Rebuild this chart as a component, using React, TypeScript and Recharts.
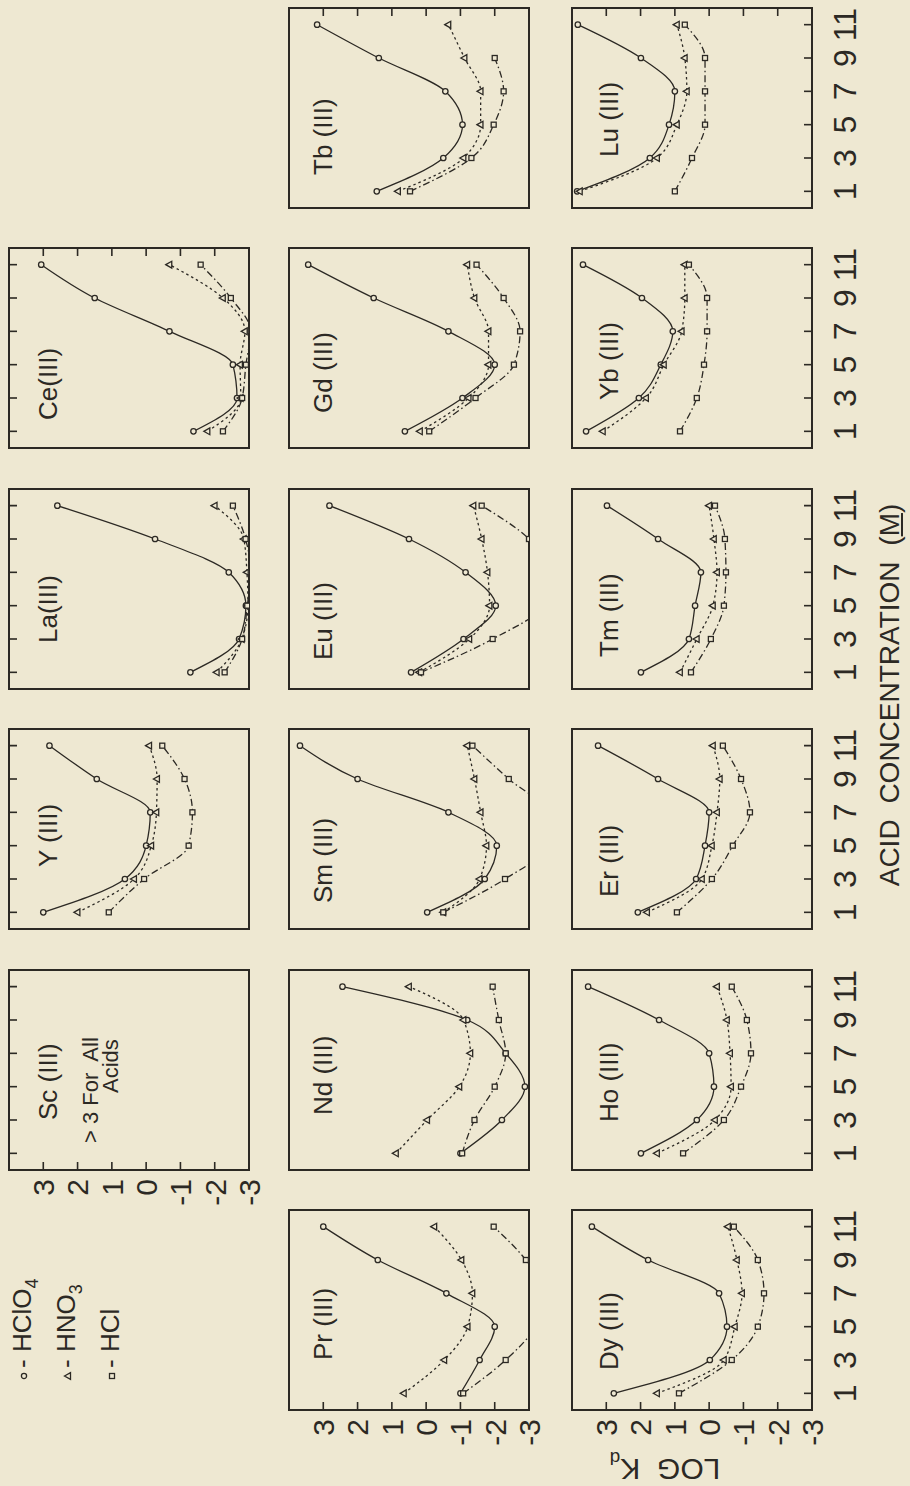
import React from 'react';
import { ComposedChart, Line, XAxis, YAxis, ReferenceArea } from 'recharts';

// acid concentration (M) of every measured point
const conc = [1, 3, 5, 7, 9, 11];
const concTicks = [1, 3, 5, 7, 9, 11];
const logTicks = [-3, -2, -1, 0, 1, 2, 3];

// LOG Kd at conc 1..11  (values below -3 run off the panel)
const scHClO4 = [null, null, null, null, null, null];
const scHNO3 = [null, null, null, null, null, null];
const scHCl = [null, null, null, null, null, null];

const yHClO4 = [3.0, 0.62, 0.0, -0.12, 1.44, 2.82];
const yHNO3 = [2.0, 0.35, -0.15, -0.3, -0.32, -0.09];
const yHCl = [1.09, 0.06, -1.24, -1.35, -1.12, -0.47];

const laHClO4 = [-1.29, -2.71, -2.91, -2.41, -0.26, 2.59];
const laHNO3 = [-2.06, -2.79, -2.97, -2.94, -2.85, -2.0];
const laHCl = [-2.29, -2.8, -2.95, -3.05, -2.9, -2.53];

const ceHClO4 = [-1.38, -2.65, -2.53, -0.68, 1.5, 3.06];
const ceHNO3 = [-1.79, -2.76, -2.74, -2.88, -2.24, -0.68];
const ceHCl = [-2.24, -2.8, -2.91, -3.05, -2.47, -1.59];

const prHClO4 = [-1.0, -1.56, -2.0, -0.59, 1.41, 3.0];
const prHNO3 = [0.65, -0.53, -1.21, -1.35, -1.03, -0.24];
const prHCl = [-1.08, -2.32, -3.2, -3.5, -2.91, -1.97];

const ndHClO4 = [-1.0, -2.21, -2.88, -2.32, -1.2, 2.44];
const ndHNO3 = [0.88, -0.03, -0.97, -1.29, -1.09, 0.5];
const ndHCl = [-1.05, -1.41, -2.0, -2.32, -2.12, -1.94];

const smHClO4 = [-0.03, -1.71, -2.06, -0.65, 2.0, 3.68];
const smHNO3 = [-0.5, -1.56, -1.76, -1.59, -1.41, -1.2];
const smHCl = [-0.5, -2.3, -3.5, -3.5, -2.41, -1.35];

const euHClO4 = [0.44, -1.09, -2.03, -1.15, 0.5, 2.82];
const euHNO3 = [0.2, -1.26, -1.85, -1.79, -1.62, -1.38];
const euHCl = [0.15, -1.94, -3.4, -3.6, -3.0, -1.62];

const gdHClO4 = [0.62, -1.06, -2.0, -0.65, 1.53, 3.44];
const gdHNO3 = [0.18, -1.24, -1.82, -1.82, -1.41, -1.2];
const gdHCl = [-0.09, -1.44, -2.56, -2.74, -2.26, -1.47];

const tbHClO4 = [1.44, -0.5, -1.06, -0.56, 1.38, 3.18];
const tbHNO3 = [0.82, -1.09, -1.59, -1.59, -1.12, -0.65];
const tbHCl = [0.47, -1.32, -1.97, -2.26, -2.0, null];

const dyHClO4 = [2.78, -0.02, -0.52, -0.29, 1.78, 3.42];
const dyHNO3 = [1.52, -0.43, -0.75, -0.96, -0.81, -0.55];
const dyHCl = [0.88, -0.66, -1.42, -1.6, -1.42, -0.72];

const hoHClO4 = [1.99, 0.36, -0.14, 0.0, 1.46, 3.53];
const hoHNO3 = [1.52, -0.17, -0.64, -0.61, -0.52, -0.23];
const hoHCl = [0.76, -0.43, -0.93, -1.22, -1.1, -0.66];

const erHClO4 = [2.08, 0.38, 0.12, 0.0, 1.49, 3.24];
const erHNO3 = [1.81, 0.21, -0.08, -0.23, -0.31, -0.11];
const erHCl = [0.94, -0.08, -0.69, -1.19, -0.93, -0.4];

const tmHClO4 = [1.99, 0.59, 0.41, 0.24, 1.49, 2.98];
const tmHNO3 = [0.85, 0.36, -0.11, -0.23, -0.14, 0.0];
const tmHCl = [0.53, -0.05, -0.43, -0.49, -0.46, -0.17];

const ybHClO4 = [3.59, 2.05, 1.41, 1.06, 1.96, 3.68];
const ybHNO3 = [3.1, 1.84, 1.32, 0.8, 0.71, 0.71];
const ybHCl = [0.85, 0.36, 0.15, 0.06, 0.06, 0.59];

const luHClO4 = [3.85, 1.73, 1.17, 1.0, 1.99, 3.83];
const luHNO3 = [3.77, 1.52, 0.94, 0.65, 0.71, 0.94];
const luHCl = [1.0, 0.5, 0.12, 0.12, 0.12, 0.71];

const INK = '#2c2924';
const BG = '#eee8d2';
const FONT = '"Liberation Sans", Arial, sans-serif';
const PW = 200;
const PH = 240;
const M = 50;
const rowTop = [9, 289, 572];
const labelTop = [26, 21, 24];
const colLeft = (c: number) => Math.round(76 + 240.4 * c);

type Panel = {
  name: string; row: number; col: number; dx: number;
  a: (number | null)[]; b: (number | null)[]; h: (number | null)[];
};

const panels: Panel[] = [
  { name: 'Sc (III)', row: 0, col: 1, dx: 50, a: scHClO4, b: scHNO3, h: scHCl },
  { name: 'Y (III)', row: 0, col: 2, dx: 62, a: yHClO4, b: yHNO3, h: yHCl },
  { name: 'La(III)', row: 0, col: 3, dx: 46, a: laHClO4, b: laHNO3, h: laHCl },
  { name: 'Ce(III)', row: 0, col: 4, dx: 28, a: ceHClO4, b: ceHNO3, h: ceHCl },
  { name: 'Pr (III)', row: 1, col: 0, dx: 50, a: prHClO4, b: prHNO3, h: prHCl },
  { name: 'Nd (III)', row: 1, col: 1, dx: 55, a: ndHClO4, b: ndHNO3, h: ndHCl },
  { name: 'Sm (III)', row: 1, col: 2, dx: 26, a: smHClO4, b: smHNO3, h: smHCl },
  { name: 'Eu (III)', row: 1, col: 3, dx: 29, a: euHClO4, b: euHNO3, h: euHCl },
  { name: 'Gd (III)', row: 1, col: 4, dx: 35, a: gdHClO4, b: gdHNO3, h: gdHCl },
  { name: 'Tb (III)', row: 1, col: 5, dx: 33, a: tbHClO4, b: tbHNO3, h: tbHCl },
  { name: 'Dy (III)', row: 2, col: 0, dx: 40, a: dyHClO4, b: dyHNO3, h: dyHCl },
  { name: 'Ho (III)', row: 2, col: 1, dx: 48, a: hoHClO4, b: hoHNO3, h: hoHCl },
  { name: 'Er (III)', row: 2, col: 2, dx: 32, a: erHClO4, b: erHNO3, h: erHCl },
  { name: 'Tm (III)', row: 2, col: 3, dx: 32, a: tmHClO4, b: tmHNO3, h: tmHCl },
  { name: 'Yb (III)', row: 2, col: 4, dx: 48, a: ybHClO4, b: ybHNO3, h: ybHCl },
  { name: 'Lu (III)', row: 2, col: 5, dx: 51, a: luHClO4, b: luHNO3, h: luHCl },
];

const makeDot = (shape: string) => (p: any) => {
  const { cx, cy, index } = p;
  if (cx == null || cy == null || Number.isNaN(cy)) return <g key={`n${index}`} />;
  if (shape === 'c')
    return <circle key={`c${index}`} cx={cx} cy={cy} r={2.7} fill={BG} stroke={INK} strokeWidth={1.3} />;
  if (shape === 't')
    return (
      <path key={`t${index}`} d={`M${cx},${cy - 3.7}L${cx + 3.4},${cy + 2.3}L${cx - 3.4},${cy + 2.3}Z`}
        fill={BG} stroke={INK} strokeWidth={1.3} />
    );
  return <rect key={`s${index}`} x={cx - 2.5} y={cy - 2.5} width={5} height={5} fill={BG} stroke={INK} strokeWidth={1.3} />;
};

const XTick = (p: any) => (
  <text x={p.x} y={p.y} dy="0.71em" textAnchor="middle" fontSize={32} fontFamily={FONT} fill={INK}>
    {p.payload.value}
  </text>
);
const YTick = (p: any) => (
  <text x={p.x} y={p.y} dy="0.36em" textAnchor="end" fontSize={30} fontFamily={FONT} fill={INK}>
    {p.payload.value}
  </text>
);
const NoTick = () => <g />;

function PanelChart({ cfg }: { cfg: Panel }) {
  const data = conc.map((c, i) => ({ c, a: cfg.a[i], b: cfg.b[i], h: cfg.h[i] }));
  const xTop = cfg.row === 0;
  const xBottom = cfg.row === 2;
  const yLeft = (cfg.row === 0 && cfg.col === 1) || cfg.col === 0;
  const yRight = (cfg.row === 0 && cfg.col === 4) || cfg.col === 5;
  const margin = {
    top: xTop ? 0 : M,
    bottom: xBottom ? 0 : M,
    left: yLeft ? 0 : M,
    right: yRight ? 0 : M,
  };
  const tickLine = { stroke: INK, strokeWidth: 1.6 };
  return (
    <div style={{ position: 'absolute', left: colLeft(cfg.col) - M, top: rowTop[cfg.row] - M }}>
      <ComposedChart width={PW + 2 * M} height={PH + 2 * M} data={data} margin={margin}>
        <XAxis dataKey="c" type="number" domain={[0, 12]} allowDataOverflow ticks={concTicks} interval={0}
          hide={!xTop && !xBottom} orientation={xTop ? 'top' : 'bottom'} height={M}
          axisLine={false} tickLine={tickLine} tickSize={-8} tickMargin={29}
          tick={xBottom ? XTick : NoTick} />
        <YAxis type="number" domain={[-3, 4]} allowDataOverflow ticks={logTicks} interval={0}
          hide={!yLeft && !yRight} orientation={yRight ? 'right' : 'left'} width={M}
          axisLine={false} tickLine={tickLine} tickSize={-8} tickMargin={17}
          tick={yLeft ? YTick : NoTick} />
        <ReferenceArea x1={0} x2={12} y1={-3} y2={4} fill="none" fillOpacity={0} stroke={INK} strokeWidth={2} />
        <Line dataKey="a" type="monotone" stroke={INK} strokeWidth={1.3} dot={makeDot('c')}
          activeDot={false} isAnimationActive={false} />
        <Line dataKey="b" type="monotone" stroke={INK} strokeWidth={1.3} strokeDasharray="2.5 3"
          dot={makeDot('t')} activeDot={false} isAnimationActive={false} />
        <Line dataKey="h" type="monotone" stroke={INK} strokeWidth={1.3} strokeDasharray="7 3 1.5 3"
          dot={makeDot('s')} activeDot={false} isAnimationActive={false} />
      </ComposedChart>
    </div>
  );
}

const Marker = ({ s }: { s: string }) => (
  <svg width={12} height={10} style={{ verticalAlign: 'middle', marginRight: 2 }}>
    {s === 'c' && <circle cx={6} cy={5} r={2.6} fill="none" stroke={INK} strokeWidth={1.3} />}
    {s === 't' && <path d="M6,1.5L9.3,7.5L2.7,7.5Z" fill="none" stroke={INK} strokeWidth={1.3} />}
    {s === 's' && <rect x={3.5} y={2.5} width={5} height={5} fill="none" stroke={INK} strokeWidth={1.3} />}
  </svg>
);

const sub = { fontSize: 18, position: 'relative' as const, top: 7 };

export default function App() {
  return (
    <div style={{ position: 'absolute', left: 0, top: 0, width: 910, height: 1486, overflow: 'hidden', background: BG }}>
      <div style={{
        position: 'absolute', left: 0, top: 0, width: 1486, height: 910,
        transformOrigin: '0 0', transform: 'translate(0px, 1486px) rotate(-90deg)',
        fontFamily: FONT, color: INK,
      }}>
        {panels.map((p) => <PanelChart key={p.name} cfg={p} />)}
        {panels.map((p) => (
          <div key={`l${p.name}`} style={{
            position: 'absolute', left: colLeft(p.col) + p.dx, top: rowTop[p.row] + labelTop[p.row],
            fontSize: 26, lineHeight: '26px', whiteSpace: 'nowrap',
          }}>{p.name}</div>
        ))}
        <div style={{
          position: 'absolute', left: colLeft(1) + 27, top: 81, fontSize: 22, lineHeight: '20px', whiteSpace: 'nowrap',
        }}>
          <div>{'>'} 3 For&nbsp; All</div>
          <div style={{ paddingLeft: 50 }}>Acids</div>
        </div>
        <div style={{ position: 'absolute', left: 104, top: 2, fontSize: 26, lineHeight: '41px', whiteSpace: 'nowrap' }}>
          <div><Marker s="c" />-&nbsp;HClO<span style={sub}>4</span></div>
          <div><Marker s="t" />-&nbsp;HNO<span style={sub}>3</span></div>
          <div><Marker s="s" />-&nbsp;HCl</div>
        </div>
        <div style={{
          position: 'absolute', left: 791, top: 876, transform: 'translateX(-50%)',
          fontSize: 28, lineHeight: '28px', whiteSpace: 'nowrap', wordSpacing: 8,
        }}>
          ACID CONCENTRATION (<span style={{ textDecoration: 'underline' }}>M</span>)
        </div>
        <div style={{
          position: 'absolute', left: 19, top: 665, transform: 'translate(-50%, -50%) rotate(-90deg)',
          fontSize: 30, lineHeight: '34px', whiteSpace: 'nowrap',
        }}>
          LOG&nbsp;&nbsp;K<span style={{ fontSize: 19, position: 'relative', top: 7 }}>d</span>
        </div>
      </div>
    </div>
  );
}
